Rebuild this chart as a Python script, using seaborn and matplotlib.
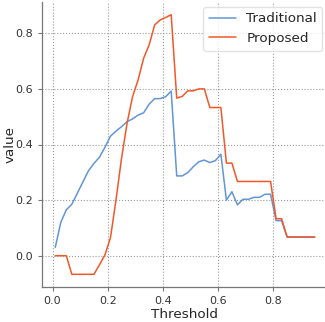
import numpy as np
import pandas as pd
import matplotlib
matplotlib.use("Agg")
import matplotlib.pyplot as plt
import seaborn as sns

thresholds = [0.01, 0.03, 0.05, 0.07, 0.09, 0.11, 0.13, 0.15, 0.17, 0.19,
              0.21, 0.23, 0.25, 0.27, 0.29, 0.31, 0.33, 0.35, 0.37, 0.39,
              0.41, 0.43, 0.45, 0.47, 0.49, 0.51, 0.53, 0.55, 0.57, 0.59,
              0.61, 0.63, 0.65, 0.67, 0.69, 0.71, 0.73, 0.75, 0.77, 0.79,
              0.81, 0.83, 0.85, 0.87, 0.89, 0.91, 0.93, 0.95]

traditional = [0.03, 0.12, 0.165, 0.185, 0.225, 0.265, 0.305, 0.332, 0.354, 0.39,
               0.43, 0.448, 0.464, 0.482, 0.492, 0.506, 0.514, 0.545, 0.565, 0.565,
               0.572, 0.592, 0.287, 0.287, 0.299, 0.32, 0.338, 0.344, 0.335, 0.342,
               0.365, 0.2, 0.23, 0.183, 0.203, 0.203, 0.21, 0.21, 0.221, 0.221,
               0.126, 0.126, 0.067, 0.067, 0.067, 0.067, 0.067, 0.067]

proposed = [0.0, 0.0, 0.0, -0.067, -0.067, -0.067, -0.067, -0.067, -0.033, 0.003,
            0.065, 0.2, 0.35, 0.476, 0.572, 0.632, 0.71, 0.758, 0.83, 0.848,
            0.857, 0.867, 0.567, 0.573, 0.593, 0.593, 0.6, 0.6, 0.533, 0.533,
            0.533, 0.333, 0.333, 0.267, 0.267, 0.267, 0.267, 0.267, 0.267, 0.267,
            0.133, 0.133, 0.067, 0.067, 0.067, 0.067, 0.067, 0.067]

series_names = ["Traditional", "Proposed"]
colors = ["#6296d6", "#f0582a"]

df = pd.DataFrame({
    "Threshold": thresholds * 2,
    "value": traditional + proposed,
    "method": [series_names[0]] * len(thresholds) + [series_names[1]] * len(thresholds),
})

sns.set_style("ticks")
plt.rcParams["font.family"] = ["DejaVu Sans"]

fig = plt.figure(figsize=(3.25, 3.22), dpi=100)
W, H = 325, 322
ax = fig.add_axes([42.3 / W, (H - 287.3) / H, (327.7 - 42.3) / W, (287.3 - 1.7) / H])

sns.lineplot(data=df, x="Threshold", y="value", hue="method",
             palette=dict(zip(series_names, colors)), linewidth=1.1, ax=ax)

ax.grid(True, linestyle=":", color="#999999", linewidth=0.8)
ax.set_axisbelow(True)
sns.despine(ax=ax)
for s in ["left", "bottom"]:
    ax.spines[s].set_color("#777777")
    ax.spines[s].set_linewidth(0.9)
ax.tick_params(colors="#333333", labelsize=8, length=3, width=0.8, color="#777777")
ax.set_xticks([0.0, 0.2, 0.4, 0.6, 0.8])
ax.set_yticks([0.0, 0.2, 0.4, 0.6, 0.8])
ax.set_xlabel("Threshold", fontsize=9.7, labelpad=1)
ax.set_ylabel("value", fontsize=9.7)
ax.yaxis.set_label_coords(-0.09, 0.5)

leg = ax.legend(loc="upper right", fontsize=9.7, frameon=True, title=None,
                borderaxespad=0.4, handlelength=2.0, bbox_to_anchor=(1.0, 1.0))
leg.get_frame().set_edgecolor("#dddddd")

fig.savefig("out.png", dpi=100)
